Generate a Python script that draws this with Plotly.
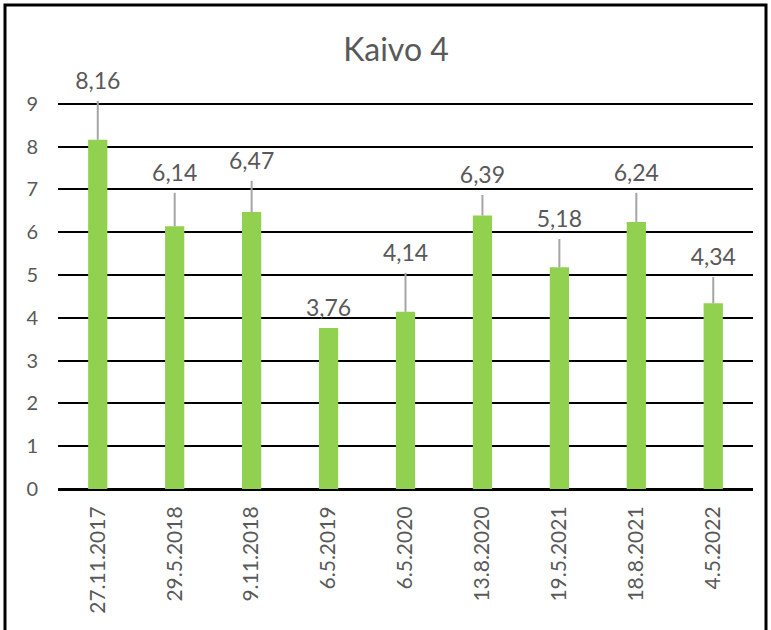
import plotly.graph_objects as go

categories = ["27.11.2017", "29.5.2018", "9.11.2018", "6.5.2019", "6.5.2020",
              "13.8.2020", "19.5.2021", "18.8.2021", "4.5.2022"]
values = [8.16, 6.14, 6.47, 3.76, 4.14, 6.39, 5.18, 6.24, 4.34]
errors_plus = [0.91, 0.78, 0.73, 0.0, 0.91, 0.48, 0.66, 0.68, 0.61]
y_ticks = list(range(0, 10))

FONT = "Lato, Calibri, Carlito, sans-serif"
GREY = "#595959"

fig = go.Figure()
fig.add_trace(go.Bar(
    x=categories, y=values, width=0.25,
    marker=dict(color="#92D050", line=dict(width=0)),
    error_y=dict(type="data", symmetric=False, array=errors_plus,
                 arrayminus=[0] * len(values), color="#A5A5A5",
                 thickness=2, width=0),
    hoverinfo="x+y",
))

label_y = [v + e for v, e in zip(values, errors_plus)]
label_text = [f"{v:.2f}".replace(".", ",") for v in values]
fig.add_trace(go.Scatter(
    x=categories, y=label_y, text=label_text, mode="markers+text",
    textposition="top center", cliponaxis=False,
    marker=dict(size=8, opacity=0),
    textfont=dict(family=FONT, size=23, color=GREY),
    hoverinfo="skip",
))

# plot area: bottom at 489px, 42.8 px per unit, range 0..10 (top area invisible)
PL, PR, PT, PB = 58, 753, 61, 489

# outer frame
fig.add_shape(type="rect", xref="paper", yref="paper",
              x0=(5 - PL) / (PR - PL), x1=(766 - PL) / (PR - PL),
              y0=-0.5, y1=(PB - 5) / (PB - PT),
              line=dict(color="black", width=3), fillcolor="rgba(0,0,0,0)")

fig.update_layout(
    width=771, height=630,
    margin=dict(l=PL, r=771 - PR, t=PT, b=630 - PB),
    paper_bgcolor="white", plot_bgcolor="white",
    showlegend=False,
    font=dict(family=FONT, color=GREY),
    title=dict(text="Kaivo 4", x=(396 - PL) / (PR - PL), xref="paper", xanchor="center",
               y=1 - 50 / 630, yanchor="middle", yref="container",
               font=dict(family=FONT, size=32, color=GREY)),
    xaxis=dict(tickangle=-90, tickfont=dict(size=21, color=GREY, family=FONT),
               showgrid=False, ticks="", ticklabelstandoff=7, automargin=False,
               showline=True, linecolor="black", linewidth=2),
    yaxis=dict(range=[0, 10], tickvals=y_ticks, tickfont=dict(size=20, color=GREY, family=FONT),
               showgrid=True, gridcolor="black", gridwidth=2,
               zeroline=True, zerolinecolor="black", zerolinewidth=2,
               ticks="", ticklabelstandoff=19, showline=False, automargin=False),
)

fig.write_html("out.html", config={"displayModeBar": False},
               post_script="document.body.style.margin='0';")
